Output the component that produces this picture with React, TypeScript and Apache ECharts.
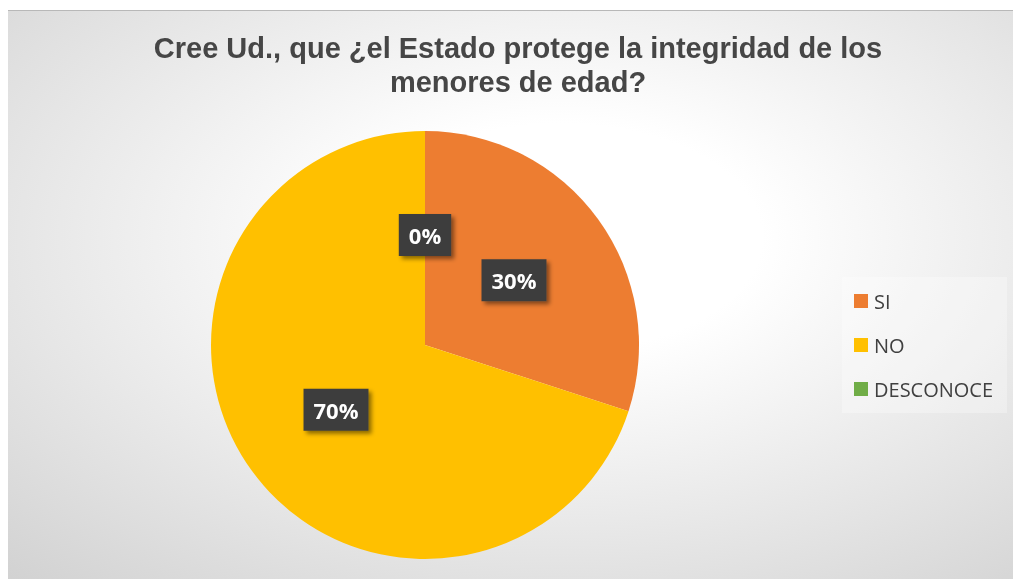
import React, { useEffect, useRef } from "react";
import * as echarts from "echarts";

const TITLE_LINES = ["Cree Ud., que ¿el Estado protege la integridad de los", "menores de edad?"];
const categories = ["SI", "NO", "DESCONOCE"];
const values = [30, 70, 0];
const colors = ["#ED7D31", "#FFC000", "#70AD47"];

export default function App() {
  const ref = useRef<HTMLDivElement>(null);
  useEffect(() => {
    if (!ref.current) return;
    const chart = echarts.init(ref.current, null, { renderer: "svg" });
    chart.setOption({
      animation: false,
      backgroundColor: {
        type: "radial",
        x: 0.55,
        y: 0.4,
        r: 1.0,
        colorStops: [
          { offset: 0, color: "#ffffff" },
          { offset: 0.2, color: "#ffffff" },
          { offset: 1, color: "#c4c4c4" },
        ],
      },
      title: {
        text: TITLE_LINES.join("\n"),
        left: 505,
        top: 16,
        textAlign: "center",
        textStyle: {
          fontFamily: "Liberation Sans",
          fontWeight: "bold",
          fontSize: 29,
          lineHeight: 34,
          color: "#464646",
        },
      },
      graphic: [
        {
          type: "rect",
          shape: { x: 834, y: 267, width: 165, height: 136 },
          style: { fill: "rgba(255,255,255,0.3)" },
          silent: true,
        },
        {
          type: "line",
          shape: { x1: 0, y1: 0.5, x2: 1005, y2: 0.5 },
          style: { stroke: "#b8b8b8", lineWidth: 1 },
          silent: true,
        },
      ],
      legend: {
        orient: "vertical",
        left: 841,
        top: 276,
        itemWidth: 14,
        itemHeight: 14,
        itemGap: 24,
        icon: "rect",
        data: categories,
        textStyle: {
          fontFamily: "Open Sans",
          fontSize: 20,
          lineHeight: 20,
          color: "#404040",
          padding: [0, 0, 0, 1],
        },
      },
      series: [
        {
          type: "pie",
          center: [417, 335],
          radius: [0, 214],
          startAngle: 90,
          clockwise: true,
          stillShowZeroSum: true,
          minAngle: 0,
          avoidLabelOverlap: false,
          data: categories.map((c, i) => ({
            name: c,
            value: values[i],
            itemStyle: { color: colors[i] },
          })),
          label: {
            show: true,
            position: "inside",
            formatter: (p: any) => Math.round(p.percent) + "%",
            fontFamily: "Open Sans",
            fontWeight: "bold",
            fontSize: 22,
            lineHeight: 26,
            color: "#ffffff",
            backgroundColor: "#3d3d3d",
            padding: [9, 10, 7, 10],
            shadowColor: "rgba(0,0,0,0.45)",
            shadowBlur: 4,
            shadowOffsetX: 3,
            shadowOffsetY: 3,
          },
          labelLine: { show: false },
          emphasis: { disabled: true },
        },
      ],
    });
    return () => chart.dispose();
  }, []);
  return (
    <div
      ref={ref}
      style={{ position: "fixed", left: 8, top: 10, width: 1005, height: 569 }}
    />
  );
}
